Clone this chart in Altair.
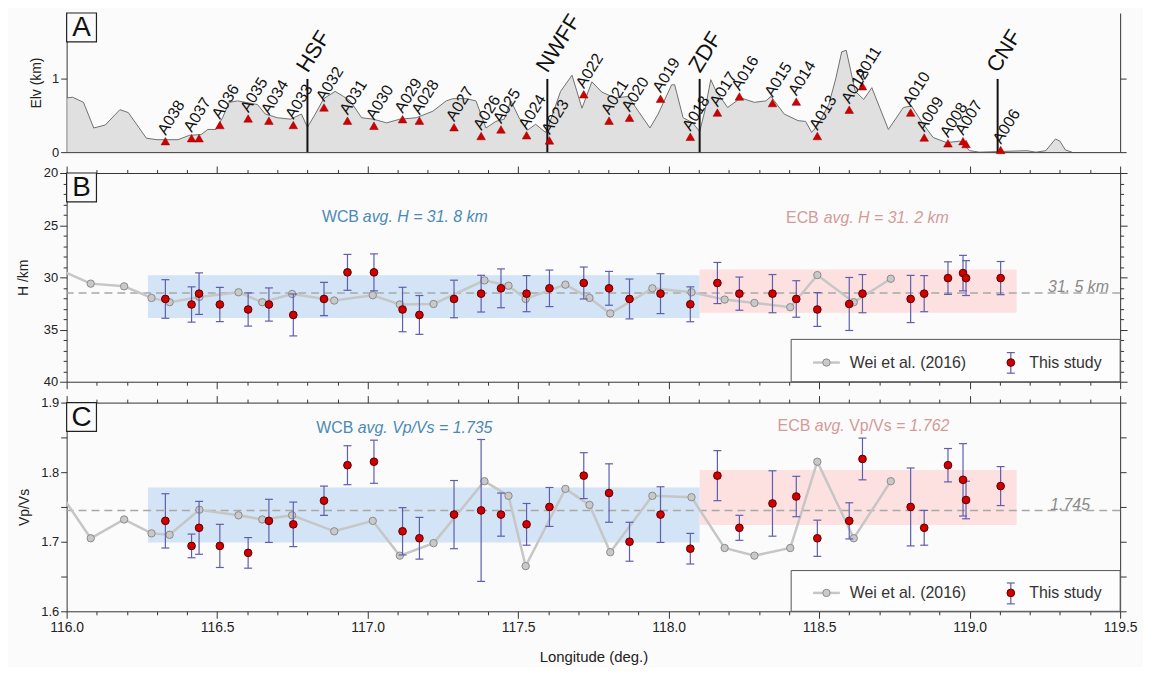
import altair as alt
import pandas as pd

FONT = "Liberation Sans"
NARROW = "Liberation Sans Narrow, Liberation Sans"

# ---------------- Panel A : topographic profile ----------------
prof_lon = [116.000, 116.020, 116.056, 116.090, 116.128, 116.177, 116.205, 116.265, 116.300, 116.370,
            116.408, 116.447, 116.469, 116.496, 116.518, 116.540, 116.568, 116.634, 116.660, 116.700,
            116.744, 116.780, 116.800, 116.826, 116.854, 116.892, 116.920, 116.942, 116.980, 117.019,
            117.063, 117.107, 117.162, 117.217, 117.261, 117.283, 117.327, 117.360, 117.393, 117.426,
            117.454, 117.476, 117.503, 117.531, 117.558, 117.591, 117.602, 117.641, 117.679, 117.712,
            117.745, 117.778, 117.822, 117.866, 117.899, 117.938, 117.965, 118.010, 118.020, 118.048,
            118.080, 118.103, 118.120, 118.140, 118.158, 118.196, 118.240, 118.285, 118.323, 118.340,
            118.384, 118.430, 118.455, 118.475, 118.494, 118.532, 118.555, 118.575, 118.590, 118.620,
            118.648, 118.675, 118.730, 118.780, 118.807, 118.846, 118.879, 118.923, 118.967, 119.000,
            119.033, 119.190, 119.220, 119.253, 119.285, 119.300, 119.318, 119.340]
prof_elev = [0.74, 0.75, 0.68, 0.33, 0.37, 0.58, 0.54, 0.19, 0.17, 0.17,
             0.23, 0.24, 0.31, 0.31, 0.47, 0.68, 0.70, 0.65, 0.52, 0.47,
             0.45, 0.52, 0.34, 0.52, 0.73, 0.83, 0.76, 0.70, 0.47, 0.45,
             0.40, 0.45, 0.47, 0.56, 0.70, 0.73, 0.73, 0.70, 0.33, 0.42,
             0.45, 0.70, 0.47, 0.30, 0.38, 0.27, 0.37, 0.83, 1.05, 0.60,
             0.96, 0.82, 0.74, 0.76, 0.56, 0.33, 0.52, 0.92, 0.92, 0.47,
             0.40, 0.28, 0.56, 0.99, 0.83, 0.61, 0.74, 0.68, 0.70, 0.76,
             0.52, 0.43, 0.42, 0.27, 0.36, 0.65, 1.00, 1.37, 1.39, 0.83,
             0.72, 0.88, 0.31, 0.61, 0.63, 0.38, 0.20, 0.13, 0.15, 0.02,
             0.00, 0.02, 0.00, 0.02, 0.18, 0.15, 0.03, 0.00]

# Stations (triangles in A, red dots in B and C)
sta_names = ["A038", "A037", "", "A036", "A035", "A034", "A033", "A032", "A031", "A030", "A029", "A028",
             "A027", "A026", "A025", "A024", "A023", "A022", "A021", "A020", "A019", "A018", "A017", "A016",
             "A015", "A014", "A013", "A012", "A011", "A010", "A009", "A008", "A007", "", "A006"]
sta_lon = [116.328, 116.415, 116.440, 116.509, 116.603, 116.672, 116.753, 116.855, 116.933, 117.021,
           117.116, 117.172, 117.287, 117.377, 117.443, 117.528, 117.604, 117.718, 117.802, 117.870,
           117.973, 118.072, 118.162, 118.235, 118.345, 118.424, 118.494, 118.600, 118.644, 118.804,
           118.849, 118.928, 118.978, 118.988, 119.103]
sta_elev = [0.15, 0.19, 0.19, 0.37, 0.46, 0.43, 0.37, 0.61, 0.43, 0.36,
            0.45, 0.43, 0.34, 0.22, 0.31, 0.23, 0.16, 0.79, 0.43, 0.47,
            0.73, 0.21, 0.54, 0.76, 0.67, 0.69, 0.22, 0.58, 0.90, 0.54,
            0.20, 0.12, 0.15, 0.11, 0.03]

# Faults
fault_names = ["HSF", "NWFF", "ZDF", "CNF"]
fault_lon = [116.800, 117.597, 118.103, 119.093]
fault_top = [1.0, 1.0, 1.0, 1.0]

# This study: Moho depth H (km) and Vp/Vs with errors
this_H = [32.07, 32.60, 31.56, 32.60, 33.08, 32.60, 33.60, 32.07, 29.52, 29.52,
          33.08, 33.60, 32.07, 31.56, 31.05, 31.56, 31.05, 30.54, 31.05, 32.07,
          31.56, 32.58, 30.54, 31.56, 31.56, 32.07, 33.08, 32.55, 31.56, 32.07,
          31.56, 30.07, 29.59, 30.07, 30.07]
this_H_err = [1.85, 1.69, 1.99, 1.64, 1.59, 1.59, 2.01, 1.59, 1.72, 1.77,
              2.13, 1.86, 1.80, 1.76, 1.86, 1.73, 1.75, 1.53, 1.62, 1.91,
              1.91, 1.67, 1.97, 1.59, 1.83, 1.75, 1.62, 2.54, 1.83, 2.26,
              1.73, 1.56, 1.70, 1.67, 1.59]
this_vpvs = [1.730, 1.694, 1.720, 1.694, 1.684, 1.730, 1.725, 1.759, 1.810, 1.815,
             1.715, 1.705, 1.739, 1.745, 1.739, 1.725, 1.750, 1.795, 1.770, 1.700,
             1.739, 1.690, 1.795, 1.720, 1.755, 1.765, 1.705, 1.730, 1.819, 1.750,
             1.720, 1.810, 1.789, 1.760, 1.780]
this_vpvs_err = [0.039, 0.017, 0.038, 0.031, 0.022, 0.031, 0.032, 0.021, 0.028, 0.031,
                 0.034, 0.030, 0.049, 0.102, 0.031, 0.030, 0.028, 0.033, 0.042, 0.028,
                 0.040, 0.022, 0.036, 0.018, 0.047, 0.029, 0.026, 0.026, 0.030, 0.056,
                 0.025, 0.024, 0.052, 0.027, 0.028]

# Wei et al. (2016)
wei_lon = [115.970, 116.080, 116.191, 116.282, 116.342, 116.441, 116.571, 116.650, 116.749, 116.889,
           117.017, 117.107, 117.219, 117.388, 117.468, 117.525, 117.657, 117.737, 117.806, 117.946,
           118.076, 118.186, 118.285, 118.404, 118.494, 118.615, 118.738]
wei_H = [29.20, 30.60, 30.86, 31.97, 32.38, 31.88, 31.43, 32.38, 31.59, 32.22,
         31.71, 32.60, 32.55, 30.29, 30.80, 32.07, 30.70, 31.97, 33.46, 31.05,
         31.43, 32.13, 32.45, 32.86, 29.78, 32.38, 30.13]
wei_vpvs = [1.775, 1.705, 1.732, 1.712, 1.710, 1.746, 1.738, 1.732, 1.738, 1.715,
            1.730, 1.680, 1.698, 1.787, 1.766, 1.665, 1.776, 1.753, 1.685, 1.766,
            1.764, 1.691, 1.680, 1.691, 1.815, 1.705, 1.787]

# Blocks (WCB / ECB averages)
blocks = ["WCB", "ECB"]
block_lon0 = [116.270, 118.103]
block_lon1 = [118.103, 119.156]
block_H0 = [29.80, 29.25]
block_H1 = [33.90, 33.40]
block_v0 = [1.699, 1.724]
block_v1 = [1.778, 1.803]

H_ref = 31.5
vpvs_ref = 1.745

# ---------------- styles ----------------
BG = "#fbfbfb"
BLUE_FILL = "#d2e4f5"
PINK_FILL = "#fde1e1"
BLUE_TXT = "#4a8ab5"
PINK_TXT = "#d49a98"
RED = "#d00000"
RED_EDGE = "#5a0000"
EB = "#5e5eae"
GRAY_LINE = "#c6c6c6"
GRAY_PT = "#c9c9c9"
GRAY_EDGE = "#8a8a8a"
REF_COL = "#a8a8a8"
ANN = 16

W = 1060
HA, HB, HC = 140, 210, 210

XS = alt.Scale(domain=[116.0, 119.5], nice=False, zero=False)
YA = alt.Scale(domain=[0, 1.9], nice=False, zero=False)
YB = alt.Scale(domain=[20, 40], nice=False, zero=False, reverse=True)
YC = alt.Scale(domain=[1.6, 1.9], nice=False, zero=False)

X_TICKS = [round(116.0 + 0.1 * i, 1) for i in range(36)]
MAJOR_X = "abs(datum.value * 2 - round(datum.value * 2)) < 0.001"
B_TICKS = list(range(20, 41))
MAJOR_B = "datum.value % 5 === 0"
C_TICKS = [round(1.6 + 0.05 * i, 2) for i in range(7)]
MAJOR_C = "abs(datum.value * 10 - round(datum.value * 10)) < 0.001"

AX = dict(domainColor="#333", tickColor="#333", grid=False, labelFont=FONT, titleFont=FONT,
          labelColor="#222", titleColor="#222", domainWidth=1, tickWidth=1,
          titleFontWeight="normal", labelFontSize=13, titleFontSize=14)


def xaxis(orient, labels=False):
    kw = dict(AX)
    kw.update(orient=orient, values=X_TICKS, labels=labels, title=None,
              tickSize={"condition": {"test": MAJOR_X, "value": 7}, "value": 3.5})
    if labels:
        kw.update(labelExpr=f"{MAJOR_X} ? format(datum.value, '.1f') : ''",
                  labelFont=NARROW, labelFontSize=14, labelPadding=2, labelOverlap=False,
                  labelFlush=False, title="Longitude (deg.)", titleFont=NARROW,
                  titleFontSize=15, titlePadding=15)
    return alt.Axis(**kw)


def yaxis_B(orient):
    kw = dict(AX)
    kw.update(orient=orient, values=B_TICKS,
              tickSize={"condition": {"test": MAJOR_B, "value": 7}, "value": 3.5})
    if orient == "left":
        kw.update(labelExpr=f"{MAJOR_B} ? datum.label : ''", labelOverlap=False,
                  title="H /km", titlePadding=13, labelPadding=2)
    else:
        kw.update(labels=False, title=None)
    return alt.Axis(**kw)


def yaxis_C(orient):
    kw = dict(AX)
    kw.update(orient=orient, values=C_TICKS, tickSize=6)
    if orient == "left":
        kw.update(labelExpr=f"{MAJOR_C} ? format(datum.value, '.1f') : ''", labelOverlap=False,
                  title="Vp/Vs", titlePadding=9, labelPadding=2)
    else:
        kw.update(labels=False, title=None)
    return alt.Axis(**kw)


one = pd.DataFrame({"k": [0]})


def panel_letter(letter):
    box = alt.Chart(one).mark_rect(fill=BG, stroke="#222", strokeWidth=1.2).encode(
        x=alt.value(0), x2=alt.value(30), y=alt.value(0), y2=alt.value(29))
    txt = alt.Chart(one).mark_text(font=FONT, fontSize=28, color="#111", align="center",
                                   baseline="middle").encode(
        x=alt.value(15), y=alt.value(15.5), text=alt.value(letter))
    return [box, txt]


def legend(top, mid, eb0, eb1):
    box = alt.Chart(one).mark_rect(fill="#fdfdfd", stroke="#555", strokeWidth=1).encode(
        x=alt.value(729), x2=alt.value(W), y=alt.value(top), y2=alt.value(HB))
    gl = alt.Chart(one).mark_rule(color=GRAY_LINE, strokeWidth=2.5).encode(
        x=alt.value(751), x2=alt.value(778), y=alt.value(mid))
    gp = alt.Chart(one).mark_circle(size=55, color=GRAY_PT, stroke=GRAY_EDGE, strokeWidth=1,
                                    opacity=1).encode(x=alt.value(764.5), y=alt.value(mid))
    gt = alt.Chart(one).mark_text(font=FONT, fontSize=16, color="#333", align="left",
                                  baseline="middle").encode(
        x=alt.value(788), y=alt.value(mid), text=alt.value("Wei et al. (2016)"))
    rr = alt.Chart(one).mark_rule(color=EB, strokeWidth=1.2).encode(
        x=alt.value(950), y=alt.value(eb0), y2=alt.value(eb1))
    c0 = alt.Chart(one).mark_rule(color=EB, strokeWidth=1.2).encode(
        x=alt.value(946), x2=alt.value(954), y=alt.value(eb0))
    c1 = alt.Chart(one).mark_rule(color=EB, strokeWidth=1.2).encode(
        x=alt.value(946), x2=alt.value(954), y=alt.value(eb1))
    rp = alt.Chart(one).mark_circle(size=60, color=RED, stroke=RED_EDGE, strokeWidth=1,
                                    opacity=1).encode(x=alt.value(950), y=alt.value(mid))
    rt = alt.Chart(one).mark_text(font=FONT, fontSize=16, color="#333", align="left",
                                  baseline="middle").encode(
        x=alt.value(968.5), y=alt.value(mid), text=alt.value("This study"))
    return [box, gl, gp, gt, rr, c0, c1, rp, rt]


def text_layer(texts, lons, vals, yscale, color, italic, align="left", size=ANN):
    df = pd.DataFrame({"text": texts, "lon": lons, "val": vals})
    kw = dict(font=FONT, fontSize=size, color=color, align=align, baseline="middle")
    if italic:
        kw["fontStyle"] = "italic"
    return alt.Chart(df).mark_text(**kw).encode(
        x=alt.X("lon:Q", scale=XS, axis=None),
        y=alt.Y("val:Q", scale=yscale, axis=None),
        text="text:N")


# ---------------- Panel A ----------------
prof_df = pd.DataFrame({"lon": prof_lon, "elev": prof_elev})
sta_df = pd.DataFrame({"name": sta_names, "lon": sta_lon, "elev": sta_elev,
                       "H": this_H, "Herr": this_H_err, "v": this_vpvs, "verr": this_vpvs_err})
fault_df = pd.DataFrame({"name": fault_names, "lon": fault_lon, "top": fault_top})

a_area = alt.Chart(prof_df).mark_area(
    color="#d4d4d4", line={"color": "#707070", "strokeWidth": 1}, clip=True).encode(
    x=alt.X("lon:Q", scale=XS, axis=alt.Axis(orient="bottom", ticks=False, labels=False,
                                             title=None, domainColor="#333", grid=False)),
    y=alt.Y("elev:Q", scale=YA, axis=alt.Axis(**{**AX, "orient": "left", "values": [0, 1],
                                                 "tickSize": 6, "title": "Elv (km)",
                                                 "titlePadding": 8, "labelPadding": 2})))
a_fault = alt.Chart(fault_df).mark_rule(color="#111", strokeWidth=2).encode(
    x=alt.X("lon:Q", scale=XS, axis=None),
    y=alt.Y("top:Q", scale=YA, axis=alt.Axis(**{**AX, "orient": "right", "values": [0, 1],
                                                "tickSize": 6, "labels": False, "title": None})),
    y2=alt.datum(0))
a_fault_txt = alt.Chart(fault_df).mark_text(
    font=FONT, fontSize=22, color="#111", angle=302, align="left", baseline="alphabetic",
    dx=4.5, dy=-2.5).encode(
    x=alt.X("lon:Q", scale=XS, axis=None), y=alt.Y("top:Q", scale=YA, axis=None), text="name:N")
a_tri = alt.Chart(sta_df).mark_point(shape="triangle-up", filled=True, size=75, fill=RED,
                                     stroke="#8a0000", strokeWidth=0.5, opacity=1).encode(
    x=alt.X("lon:Q", scale=XS, axis=None), y=alt.Y("elev:Q", scale=YA, axis=None))
a_lab = alt.Chart(sta_df).mark_text(
    font=FONT, fontSize=16, color="#111", angle=302, align="left", baseline="alphabetic",
    dx=4.5, dy=-2.5).encode(
    x=alt.X("lon:Q", scale=XS, axis=None), y=alt.Y("elev:Q", scale=YA, axis=None), text="name:N")

panelA = alt.layer(a_area, a_fault, a_tri, a_lab, a_fault_txt, *panel_letter("A")).resolve_axis(
    x="independent", y="independent").properties(width=W, height=HA)

# ---------------- Panel B ----------------
blk_df = pd.DataFrame({"block": blocks, "lon0": block_lon0, "lon1": block_lon1,
                       "H0": block_H0, "H1": block_H1, "v0": block_v0, "v1": block_v1})
wei_df = pd.DataFrame({"lon": wei_lon, "H": wei_H, "v": wei_vpvs})
blk_color = alt.Color("block:N", scale=alt.Scale(domain=blocks, range=[BLUE_FILL, PINK_FILL]),
                      legend=None)


def data_layers(yfield, errfield, yscale, y0, y1, ref_value, top_axis, left_axis, right_axis,
                bottom_axis):
    rects = alt.Chart(blk_df).mark_rect(opacity=1).encode(
        x=alt.X("lon0:Q", scale=XS, axis=top_axis), x2="lon1:Q",
        y=alt.Y(f"{y0}:Q", scale=yscale, axis=left_axis), y2=f"{y1}:Q",
        color=blk_color)
    ref = alt.Chart(pd.DataFrame({"r": [ref_value]})).mark_rule(
        color=REF_COL, strokeWidth=1.4, strokeDash=[8, 5]).encode(
        y=alt.Y("r:Q", scale=yscale, axis=None))
    wline = alt.Chart(wei_df).mark_line(color=GRAY_LINE, strokeWidth=2.5, clip=True).encode(
        x=alt.X("lon:Q", scale=XS, axis=bottom_axis),
        y=alt.Y(f"{yfield}:Q", scale=yscale, axis=right_axis))
    wpts = alt.Chart(wei_df).mark_circle(size=55, color=GRAY_PT, stroke=GRAY_EDGE, strokeWidth=1,
                                         opacity=1, clip=True).encode(
        x=alt.X("lon:Q", scale=XS, axis=None), y=alt.Y(f"{yfield}:Q", scale=yscale, axis=None))
    base = alt.Chart(sta_df).transform_calculate(
        lo=f"datum.{errfield[0]} - datum.{errfield[1]}",
        hi=f"datum.{errfield[0]} + datum.{errfield[1]}")
    eb = base.mark_rule(color=EB, strokeWidth=1.2).encode(
        x=alt.X("lon:Q", scale=XS, axis=None),
        y=alt.Y("lo:Q", scale=yscale, axis=None), y2="hi:Q")
    cap_lo = base.mark_tick(orient="horizontal", size=8, thickness=1.2, color=EB, opacity=1).encode(
        x=alt.X("lon:Q", scale=XS, axis=None), y=alt.Y("lo:Q", scale=yscale, axis=None))
    cap_hi = base.mark_tick(orient="horizontal", size=8, thickness=1.2, color=EB, opacity=1).encode(
        x=alt.X("lon:Q", scale=XS, axis=None), y=alt.Y("hi:Q", scale=yscale, axis=None))
    dots = alt.Chart(sta_df).mark_circle(size=60, color=RED, stroke=RED_EDGE, strokeWidth=1,
                                         opacity=1).encode(
        x=alt.X("lon:Q", scale=XS, axis=None), y=alt.Y(f"{errfield[0]}:Q", scale=yscale, axis=None))
    return [rects, ref, wline, wpts, eb, cap_lo, cap_hi, dots]


b_layers = data_layers("H", ("H", "Herr"), YB, "H0", "H1", H_ref,
                       xaxis("top"), yaxis_B("left"), yaxis_B("right"), xaxis("bottom"))
b_txt = [
    text_layer(["WCB"], [116.848], [24.2], YB, BLUE_TXT, False),
    text_layer(["avg. H = 31. 8 km"], [116.984], [24.2], YB, BLUE_TXT, True),
    text_layer(["ECB"], [118.390], [24.35], YB, PINK_TXT, False),
    text_layer(["avg. H = 31. 2 km"], [118.515], [24.35], YB, PINK_TXT, True),
    text_layer(["31. 5 km"], [119.463], [30.88], YB, "#8a8a8a", True, align="right"),
]
panelB = alt.layer(*b_layers, *b_txt, *legend(167.4, 190.7, 180.7, 201.4),
                   *panel_letter("B")).resolve_axis(
    x="independent", y="independent").properties(width=W, height=HB)

# ---------------- Panel C ----------------
c_layers = data_layers("v", ("v", "verr"), YC, "v0", "v1", vpvs_ref,
                       xaxis("top"), yaxis_C("left"), yaxis_C("right"), xaxis("bottom", labels=True))
c_txt = [
    text_layer(["WCB"], [116.829], [1.8636], YC, BLUE_TXT, False),
    text_layer(["avg. Vp/Vs = 1.735"], [116.967], [1.8636], YC, BLUE_TXT, True),
    text_layer(["ECB"], [118.362], [1.8664], YC, PINK_TXT, False),
    text_layer(["avg."], [118.485], [1.8664], YC, PINK_TXT, True),
    text_layer(["Vp/Vs"], [118.600], [1.8664], YC, PINK_TXT, False),
    text_layer(["= 1.762"], [118.755], [1.8664], YC, PINK_TXT, True),
    text_layer(["1.745"], [119.400], [1.7532], YC, "#8a8a8a", True, align="right"),
]
panelC = alt.layer(*c_layers, *c_txt, *legend(169.0, 191.5, 181.5, 202.5),
                   *panel_letter("C")).resolve_axis(
    x="independent", y="independent").properties(width=W, height=HC)

chart = alt.vconcat(panelA, panelB, panelC, spacing=21, bounds="flush").properties(
    padding={"left": 8, "top": 0, "right": 5, "bottom": 0}
).configure(background=BG).configure_view(stroke="transparent")

chart.save("out.html", embed_options={"renderer": "svg", "actions": False})
